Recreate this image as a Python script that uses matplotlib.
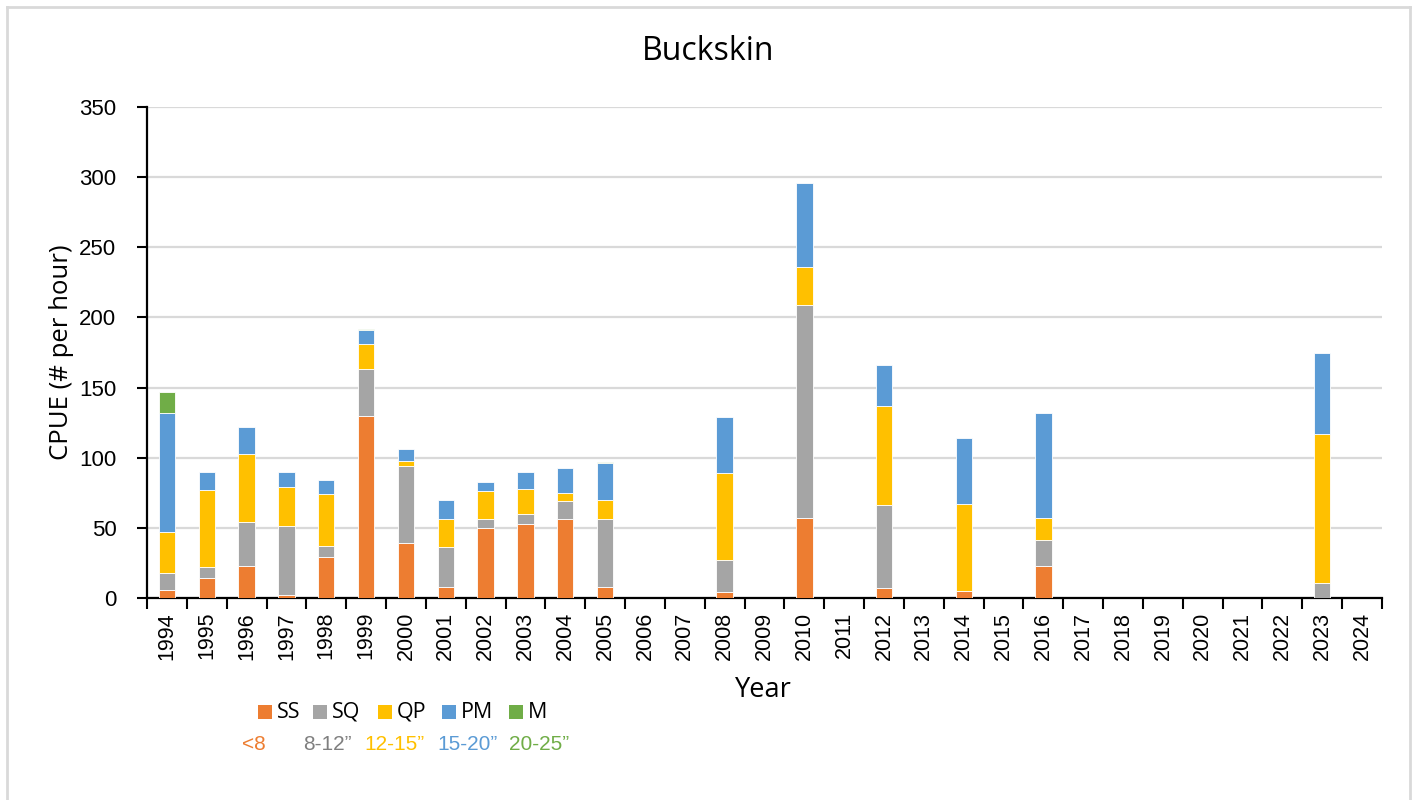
import matplotlib
matplotlib.use("Agg")
import matplotlib.pyplot as plt
from matplotlib.patches import Rectangle
from matplotlib.lines import Line2D
import numpy as np

# Survey years (every year on the axis, including years without sampling)
years = [str(y) for y in range(1994, 2025)]

# CPUE (# per hour) by length category; 0 where nothing was caught / sampled
ss = [6, 14, 23, 2, 29, 130, 39, 8, 50, 53, 56, 8, 0, 0, 4, 0, 57, 0, 7, 0, 5, 0, 23, 0, 0, 0, 0, 0, 0, 0, 0]
sq = [12, 8, 31, 49, 8, 33, 55, 28, 6, 7, 13, 48, 0, 0, 23, 0, 152, 0, 59, 0, 0, 0, 18, 0, 0, 0, 0, 0, 0, 11, 0]
qp = [29, 55, 49, 28, 37, 18, 4, 20, 20, 18, 6, 14, 0, 0, 62, 0, 27, 0, 71, 0, 62, 0, 16, 0, 0, 0, 0, 0, 0, 106, 0]
pm = [85, 13, 19, 11, 10, 10, 8, 14, 7, 12, 18, 26, 0, 0, 40, 0, 60, 0, 29, 0, 47, 0, 75, 0, 0, 0, 0, 0, 0, 58, 0]
m = [15, 0, 0, 0, 0, 1, 0, 0, 0, 0, 0, 1, 0, 0, 0, 0, 0, 0, 0, 0, 0, 0, 0, 0, 0, 0, 0, 0, 0, 0, 0]

series_names = ["SS", "SQ", "QP", "PM", "M"]
size_labels = ["<8", "8-12\u201d", "12-15\u201d", "15-20\u201d", "20-25\u201d"]
colors = ["#ED7D31", "#A5A5A5", "#FFC000", "#5B9BD5", "#70AD47"]
size_colors = ["#ED7D31", "#7F7F7F", "#FFC000", "#5B9BD5", "#70AD47"]

W, H = 1414, 800
fig = plt.figure(figsize=(W / 100, H / 100), dpi=100)
ax = fig.add_axes([147 / W, 1 - 598 / H, (1382 - 147) / W, (598 - 107) / H])

x = np.arange(len(years))
bottom = np.zeros(len(years))
for vals, name, col in zip([ss, sq, qp, pm, m], series_names, colors):
    vals = np.array(vals, dtype=float)
    keep = vals > 0
    ax.bar(x[keep], vals[keep], width=0.41, bottom=bottom[keep], color=col,
           edgecolor="white", linewidth=0.6, label=name, zorder=3)
    bottom += vals

ax.set_xlim(-0.5, len(years) - 0.5)
ax.set_ylim(0, 350)
ax.set_yticks(np.arange(0, 351, 50))
ax.yaxis.grid(True, color="#d9d9d9", linewidth=1.6, zorder=0)
ax.set_axisbelow(True)

ax.set_xticks(x)
ax.set_xticklabels(years, rotation=90, fontsize=15.5, family="Liberation Sans")
ax.set_xticks(np.arange(-0.5, len(years), 1.0), minor=True)
ax.tick_params(axis="x", which="major", length=0, pad=10)
ax.tick_params(axis="x", which="minor", length=8, width=1.5, color="black")
ax.tick_params(axis="y", length=7, width=1.5, labelsize=16, pad=15)
for lab in ax.get_yticklabels():
    lab.set_family("Liberation Sans")

for side in ["top", "right"]:
    ax.spines[side].set_visible(False)
ax.spines["left"].set_linewidth(1.6)
ax.spines["bottom"].set_linewidth(1.6)

ax.set_ylabel("CPUE (# per hour)", fontsize=18.5, family="Open Sans", labelpad=4)
fig.text(763 / W, 1 - 690 / H, "Year", ha="center", va="center", fontsize=19.5, family="Open Sans")
fig.text(708 / W, 1 - 52 / H, "Buckskin", ha="center", va="center", fontsize=23, family="Open Sans")

# Legend row: coloured squares with category codes
sq_x = [258, 313, 378, 442, 509]
for sx, name, col in zip(sq_x, series_names, colors):
    fig.add_artist(Rectangle((sx / W, 1 - 719 / H), 14 / W, 14 / H,
                             transform=fig.transFigure, facecolor=col, edgecolor="none"))
    fig.text((sx + 19) / W, 1 - 712 / H, name, ha="left", va="center", fontsize=15.5,
             family="Open Sans")

# Size ranges beneath the legend
txt_x = [242, 303, 364, 437, 509]
for tx, lab, col in zip(txt_x, size_labels, size_colors):
    fig.text(tx / W, 1 - 745 / H, lab, ha="left", va="center", fontsize=15,
             family="Liberation Sans", color=col)

# Chart-area frame
frame_kw = dict(transform=fig.transFigure, color="#d9d9d9", linewidth=2)
fig.add_artist(Line2D([7 / W, 7 / W], [0, 1 - 7 / H], **frame_kw))
fig.add_artist(Line2D([7 / W, 1410 / W], [1 - 7 / H, 1 - 7 / H], **frame_kw))
fig.add_artist(Line2D([1410 / W, 1410 / W], [0, 1 - 7 / H], **frame_kw))

fig.savefig("out.png", dpi=100, facecolor="white")
